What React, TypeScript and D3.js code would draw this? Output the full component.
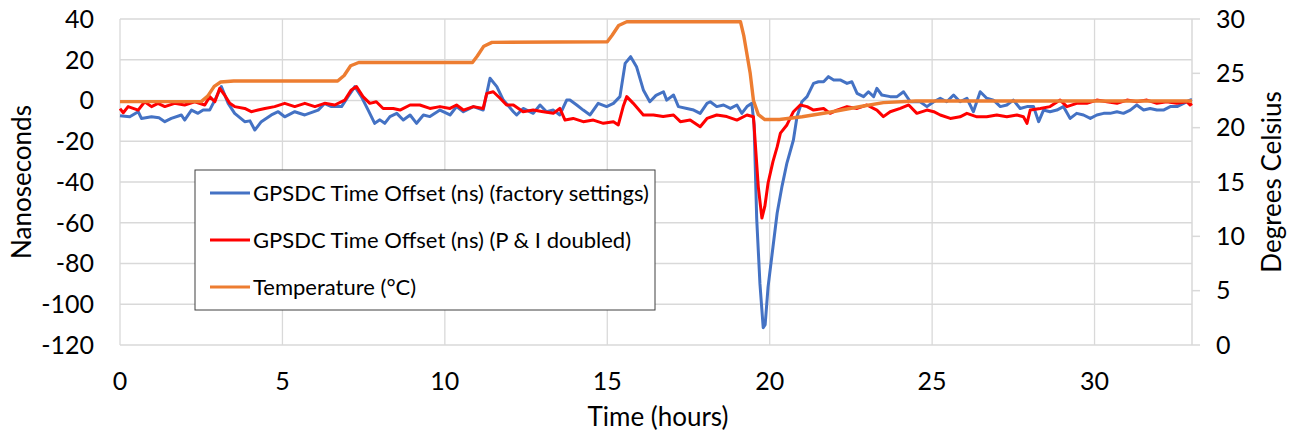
import React from "react";
import { scaleLinear, line } from "d3";

// time (hours) / offset (ns)
const blueTime = [0, 0.3, 0.56, 0.66, 0.97, 1.2, 1.38, 1.58, 1.89, 1.99, 2.2, 2.4, 2.56, 2.76, 2.92, 3.12, 3.33, 3.53, 3.84, 4.0, 4.15, 4.35, 4.66, 4.87, 5.07, 5.38, 5.69, 6.1, 6.3, 6.51, 6.82, 7.02, 7.23, 7.43, 7.64, 7.84, 8.0, 8.15, 8.31, 8.52, 8.72, 8.93, 9.13, 9.34, 9.54, 9.85, 10.16, 10.36, 10.57, 10.88, 11.18, 11.39, 11.6, 11.8, 12.11, 12.21, 12.41, 12.72, 12.93, 13.13, 13.34, 13.54, 13.75, 13.85, 14.06, 14.26, 14.47, 14.72, 14.98, 15.19, 15.39, 15.55, 15.72, 15.9, 16.11, 16.31, 16.5, 16.73, 16.83, 17.04, 17.19, 17.45, 17.66, 17.86, 18.07, 18.17, 18.37, 18.58, 18.79, 18.99, 19.14, 19.3, 19.45, 19.52, 19.6, 19.7, 19.8, 19.86, 19.95, 20.1, 20.23, 20.38, 20.53, 20.73, 20.84, 20.99, 21.15, 21.35, 21.5, 21.66, 21.81, 21.97, 22.17, 22.38, 22.53, 22.69, 22.89, 23.04, 23.2, 23.3, 23.45, 23.71, 23.92, 24.12, 24.33, 24.63, 24.84, 25.05, 25.25, 25.45, 25.66, 25.86, 26.07, 26.27, 26.48, 26.68, 26.89, 27.1, 27.3, 27.5, 27.71, 27.92, 28.12, 28.28, 28.43, 28.63, 28.84, 29.04, 29.25, 29.45, 29.66, 29.87, 30.07, 30.28, 30.48, 30.69, 30.89, 31.1, 31.3, 31.51, 31.71, 31.92, 32.12, 32.33, 32.54, 32.74, 32.94, 33.0];
const blueNs = [-7.5, -8, -5.5, -8.8, -8, -8.5, -10.4, -8.8, -7.1, -9.6, -4.7, -6.3, -4.7, -4.7, 0.2, 6.8, -1.4, -6.3, -10.4, -10, -14.5, -10.4, -7.1, -5.5, -8, -5.5, -7.1, -4.7, -1.5, -3, -3, 1.9, 6.8, 1.9, -4.7, -11.2, -9.5, -11.2, -7.9, -6.3, -9.6, -7.1, -11.2, -7.1, -7.9, -4.7, -7.1, -3, -5.5, -3, -4.7, 10.9, 6.8, 0.2, -5.5, -7.1, -3.9, -6.3, -2.2, -5.5, -4.7, -7.1, 0.2, 0.2, -2.2, -4.7, -7.1, -1.4, -3, -1.4, 1.9, 18.2, 21.5, 16.6, 5.2, -0.6, 2.5, 4.3, 0.2, 2.7, -3, -3.9, -4.7, -6.3, -1.4, -0.6, -3, -2.2, -3.9, -2.2, -6.3, -3, -1.4, -12, -58, -90, -111.5, -110, -91.5, -72, -55.2, -42, -30.7, -19.4, -8, -0.6, 1.9, 8.4, 9.2, 9.2, 11.7, 10.1, 10.1, 8.4, 9.2, 3.5, 1.9, 4.3, 1.9, 6, 2.7, 1.9, 1.9, 4.3, -0.6, -0.6, -3, -0.6, 1.1, -0.6, 2.7, -0.6, 1.1, -5.5, 4.3, 1.1, 0.2, -3, -2.2, 0.2, -3.9, -3, -3, -10.4, -4.7, -5.5, -4.7, -3, -8.8, -6.3, -7.1, -8.8, -7.1, -6.3, -6.3, -5.5, -6.3, -4.7, -2.2, -4.7, -3.9, -4.7, -4.7, -3, -3, -1.4, 0.2, 0.5];

const redTime = [0, 0.1, 0.25, 0.56, 0.76, 0.97, 1.17, 1.38, 1.68, 1.99, 2.3, 2.61, 2.76, 2.92, 3.07, 3.22, 3.38, 3.53, 3.84, 4.04, 4.25, 4.46, 4.76, 5.07, 5.38, 5.69, 6.0, 6.3, 6.61, 6.92, 7.12, 7.28, 7.48, 7.69, 7.89, 8.1, 8.41, 8.62, 8.93, 9.23, 9.54, 9.85, 10.16, 10.36, 10.57, 10.88, 11.18, 11.29, 11.49, 11.7, 11.9, 12.11, 12.41, 12.72, 13.03, 13.34, 13.54, 13.7, 13.95, 14.26, 14.57, 14.88, 15.19, 15.34, 15.49, 15.6, 15.8, 16.11, 16.42, 16.72, 17.04, 17.25, 17.55, 17.86, 18.07, 18.37, 18.68, 18.99, 19.3, 19.5, 19.65, 19.76, 19.85, 19.95, 20.1, 20.23, 20.33, 20.53, 20.73, 20.94, 21.15, 21.35, 21.66, 21.86, 22.07, 22.38, 22.69, 22.99, 23.3, 23.5, 23.71, 24.02, 24.28, 24.53, 24.84, 25.05, 25.25, 25.56, 25.86, 26.07, 26.38, 26.68, 26.99, 27.3, 27.61, 27.81, 27.92, 28.02, 28.33, 28.63, 28.94, 29.15, 29.45, 29.76, 30.07, 30.38, 30.69, 31.0, 31.3, 31.61, 31.92, 32.22, 32.53, 32.84, 32.94, 33.0];
const redNs = [-4, -6, -3, -4.7, -0.6, -3, -1.4, -3, -1.4, -2.2, -0.6, -2.2, 1.9, -0.6, 6, 2.7, -1.4, -3, -3.9, -5.5, -4.7, -3.9, -3, -1.4, -3, -1.4, -3, -1.4, -2.2, 0.2, 5.2, 6.8, 1.9, -1.4, -0.6, -3.9, -3.9, -4.7, -2.2, -2.2, -3.9, -3, -3.9, -2.2, -4.7, -3, -3.9, 3.5, 4.3, 1.1, -2.2, -2.2, -5.5, -4.7, -5.5, -6.3, -3.9, -9.6, -8.8, -10.4, -9.6, -11.2, -10.4, -12, -3, 1.9, -1.4, -7.1, -7.1, -7.9, -7.1, -10.4, -9.6, -12.9, -8.8, -7.1, -7.9, -9.6, -7.1, -8, -42.5, -57.7, -52, -40.5, -30, -22.8, -16, -12, -5.5, -2.2, -3, -4.7, -3.9, -6.3, -4.7, -3, -3.9, -2.2, -4.7, -7.9, -5.5, -3.9, -2.2, -6.3, -4.7, -5.5, -7.1, -8.8, -8, -6.3, -8, -8, -7.1, -8, -7.1, -8, -11.2, -4.7, -3.9, -3, 0.2, -3, -1.4, -1.4, 0.2, -0.6, -1.4, 0.2, -0.6, 0.2, -1.4, -0.6, -1.4, -0.6, -2.2, -1.5];

// temperature (deg C)
const tempTime = [0, 2.5, 2.7, 2.9, 3.1, 3.5, 6.7, 6.9, 7.1, 7.35, 10.85, 11.0, 11.2, 11.45, 15.0, 15.15, 15.35, 15.6, 19.1, 19.2, 19.4, 19.5, 19.65, 19.85, 20.3, 21.0, 21.8, 22.8, 23.5, 24.5, 33];
const tempC = [22.4, 22.4, 22.9, 23.8, 24.2, 24.3, 24.3, 24.8, 25.7, 26.0, 26.0, 26.6, 27.5, 27.85, 27.9, 28.5, 29.4, 29.75, 29.75, 28.5, 25, 22.5, 21.2, 20.75, 20.75, 21.0, 21.4, 21.95, 22.3, 22.45, 22.45];

const xTicks = [0, 5, 10, 15, 20, 25, 30];
const nsTicks = [-120, -100, -80, -60, -40, -20, 0, 20, 40];
const cTicks = [0, 5, 10, 15, 20, 25, 30];

const legendLabels = [
  "GPSDC Time Offset (ns) (factory settings)",
  "GPSDC Time Offset (ns) (P & I doubled)",
  "Temperature (°C)",
];
const colors = ["#4472C4", "#FF0000", "#ED7D31"];

const W = 1289;
const H = 436;
const font = "Lato, 'Liberation Sans', sans-serif";

export default function App() {
  const x = scaleLinear().domain([0, 33]).range([120, 1192]);
  const y = scaleLinear().domain([-120, 40]).range([345, 19]);
  const yR = scaleLinear().domain([0, 30]).range([345, 19]);

  const nsLine = line<[number, number]>()
    .x((d) => x(d[0]))
    .y((d) => y(d[1]));
  const cLine = line<[number, number]>()
    .x((d) => x(d[0]))
    .y((d) => yR(d[1]));

  const blue = nsLine(blueTime.map((t, i) => [t, blueNs[i]]));
  const red = nsLine(redTime.map((t, i) => [t, redNs[i]]));
  const temp = cLine(tempTime.map((t, i) => [t, tempC[i]]));

  const grid = "#D9D9D9";

  return (
    <div style={{ position: "absolute", left: 0, top: 0 }}>
      <svg width={W} height={H} style={{ display: "block", background: "#fff" }} fontFamily={font}>
        {/* gridlines */}
        {nsTicks.map((v) => (
          <line key={"h" + v} x1={120} x2={1192} y1={y(v)} y2={y(v)} stroke={grid} strokeWidth={1.3} />
        ))}
        {xTicks.map((v) => (
          <line key={"v" + v} x1={x(v)} x2={x(v)} y1={19} y2={345} stroke={grid} strokeWidth={1.3} />
        ))}
        {/* right axis */}
        <line x1={1192} x2={1192} y1={19} y2={345} stroke={grid} strokeWidth={1.5} />
        {cTicks.map((v) => (
          <line key={"rt" + v} x1={1192} x2={1200} y1={yR(v)} y2={yR(v)} stroke={grid} strokeWidth={1.5} />
        ))}

        {/* series */}
        <path d={blue ?? ""} fill="none" stroke={colors[0]} strokeWidth={3} strokeLinejoin="round" />
        <path d={red ?? ""} fill="none" stroke={colors[1]} strokeWidth={3} strokeLinejoin="round" />
        <path d={temp ?? ""} fill="none" stroke={colors[2]} strokeWidth={3.4} strokeLinejoin="round" />

        {/* tick labels */}
        {nsTicks.map((v) => (
          <text key={"yl" + v} x={94} y={y(v)} dy="0.35em" textAnchor="end" fontSize={25} fill="#000">
            {v}
          </text>
        ))}
        {cTicks.map((v) => (
          <text key={"yr" + v} x={1216} y={yR(v)} dy="0.35em" textAnchor="start" fontSize={25} fill="#000">
            {v}
          </text>
        ))}
        {xTicks.map((v) => (
          <text key={"xl" + v} x={x(v)} y={390} textAnchor="middle" fontSize={25} fill="#000">
            {v}
          </text>
        ))}

        {/* axis titles */}
        <text x={658} y={426} textAnchor="middle" fontSize={26} fill="#000">
          Time (hours)
        </text>
        <text transform="translate(31,182) rotate(-90)" textAnchor="middle" fontSize={26} fill="#000">
          Nanoseconds
        </text>
        <text transform="translate(1281,182) rotate(-90)" textAnchor="middle" fontSize={26} fill="#000">
          Degrees Celsius
        </text>

        {/* legend */}
        <rect x={195} y={170} width={460} height={140} fill="#fff" stroke="#404040" strokeWidth={1} />
        {legendLabels.map((lab, i) => (
          <g key={lab} transform={`translate(0,${193 + i * 47})`}>
            <line x1={210} x2={250} y1={0} y2={0} stroke={colors[i]} strokeWidth={3} />
            <text x={253} y={0} dy="0.35em" fontSize={22} fill="#000">
              {lab}
            </text>
          </g>
        ))}
      </svg>
    </div>
  );
}
